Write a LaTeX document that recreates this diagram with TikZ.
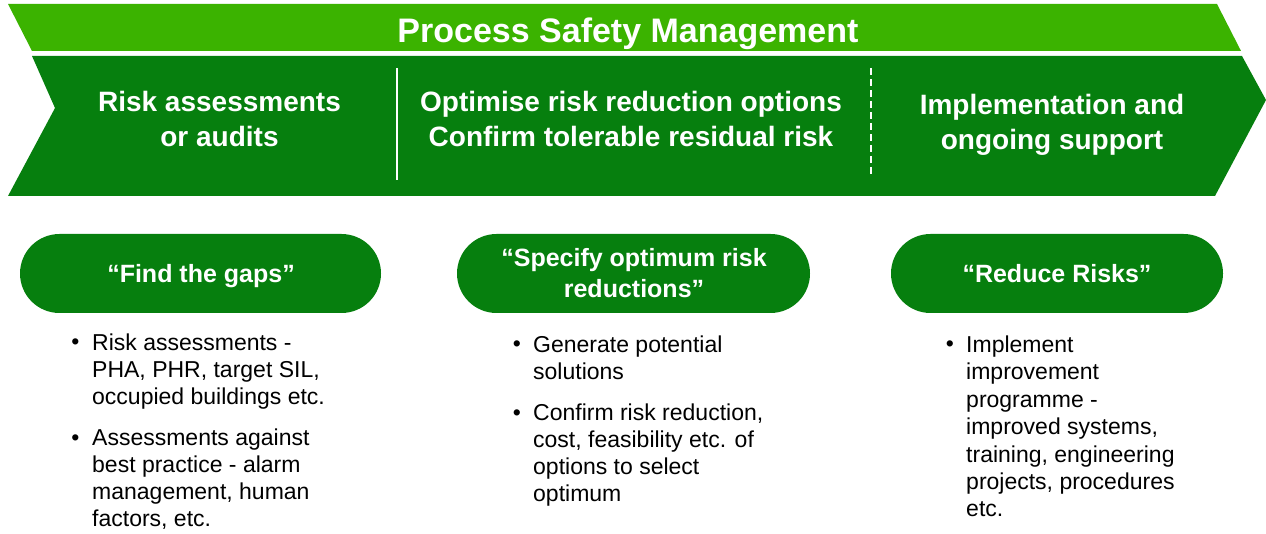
\documentclass[tikz,border=0pt]{standalone}
\usepackage{fontspec}
\setmainfont{Liberation Sans}
\usetikzlibrary{shapes.misc}
\definecolor{lightgreen}{RGB}{59,179,0}
\definecolor{darkgreen}{RGB}{6,127,14}
\tikzset{
  headtext/.style={text=white, font=\fontsize{28}{35}\selectfont\bfseries, align=center, inner sep=0pt, anchor=base},
  pill/.style={rounded rectangle, fill=darkgreen, draw=none, minimum height=79pt, inner sep=0pt},
  pilltext/.style={text=white, font=\fontsize{25}{31}\selectfont\bfseries, align=center, inner sep=0pt, anchor=base},
  bodytext/.style={text=black, font=\fontsize{23}{27}\selectfont, align=left, inner sep=0pt, anchor=north west},
  bulletmark/.style={text=black, font=\fontsize{23}{27}\selectfont, inner sep=0pt, anchor=base},
  divider/.style={white, line width=1.6pt},
}
\begin{document}
\begin{tikzpicture}[x=1pt,y=-1pt]
\useasboundingbox (0,0) rectangle (1266,534);
% top banner
\fill[lightgreen] (8,4) -- (1217,4) -- (1241,51) -- (32,51) -- cycle;
\node[text=white, font=\fontsize{34}{40}\selectfont\bfseries, inner sep=0pt, anchor=base] (title) at (628,43) {Process Safety Management};
% chevron
\fill[darkgreen] (32,56) -- (1242,56) -- (1266,100) -- (1215,196) -- (8,196) -- (55,108) -- cycle;
\coordinate (d1top) at (397,68);
\coordinate (d1bot) at (397,180);
\coordinate (d2top) at (871,68);
\coordinate (d2bot) at (871,177);
\draw[divider] (d1top) -- (d1bot);
\draw[divider, line width=2pt, dash pattern=on 7pt off 4pt] (d2top) -- (d2bot);
\node[headtext] (h1) at (219.5,112) {Risk assessments};
\node[headtext] (h1b) at (219.5,147) {or audits};
\node[headtext] (h2) at (631,112) {Optimise risk reduction options};
\node[headtext] (h2b) at (631,147) {Confirm tolerable residual risk};
\node[headtext] (h3) at (1052,115) {Implementation and};
\node[headtext] (h3b) at (1052,150) {ongoing support};
% pills
\node[pill, minimum width=361pt] (p1) at (200.5,273.5) {};
\node[pill, minimum width=353pt] (p2) at (633.5,273.5) {};
\node[pill, minimum width=332pt] (p3) at (1057,273.5) {};
\node[pilltext] (p1t) at (201,283) {“Find the gaps”};
\node[pilltext] (p2t) at (634,267) {“Specify optimum risk};
\node[pilltext] (p2tb) at (634,298) {reductions”};
\node[pilltext] (p3t) at (1057,283) {“Reduce Risks”};
% column 1
\node[bulletmark] (b11) at (75.5,350) {•};
\node[bodytext] (t11) at (92,331.1) {\strut Risk assessments -\\PHA, PHR, target SIL,\\occupied buildings etc.};
\node[bulletmark] (b12) at (75.5,445) {•};
\node[bodytext] (t12) at (92,426.1) {\strut Assessments against\\best practice - alarm\\management, human\\factors, etc.};
% column 2
\node[bulletmark] (b21) at (517,352) {•};
\node[bodytext] (t21) at (533,333.1) {\strut Generate potential\\solutions};
\node[bulletmark] (b22) at (517,420) {•};
\node[bodytext] (t22) at (533,401.1) {\strut Confirm risk reduction,\\cost, feasibility etc. of\\options to select\\optimum};
% column 3
\node[bulletmark] (b31) at (950,352) {•};
\node[bodytext, font=\fontsize{23}{27.4}\selectfont] (t31) at (966,333.1) {\strut Implement\\improvement\\programme -\\improved systems,\\training, engineering\\projects, procedures\\etc.};
\end{tikzpicture}
\end{document}
